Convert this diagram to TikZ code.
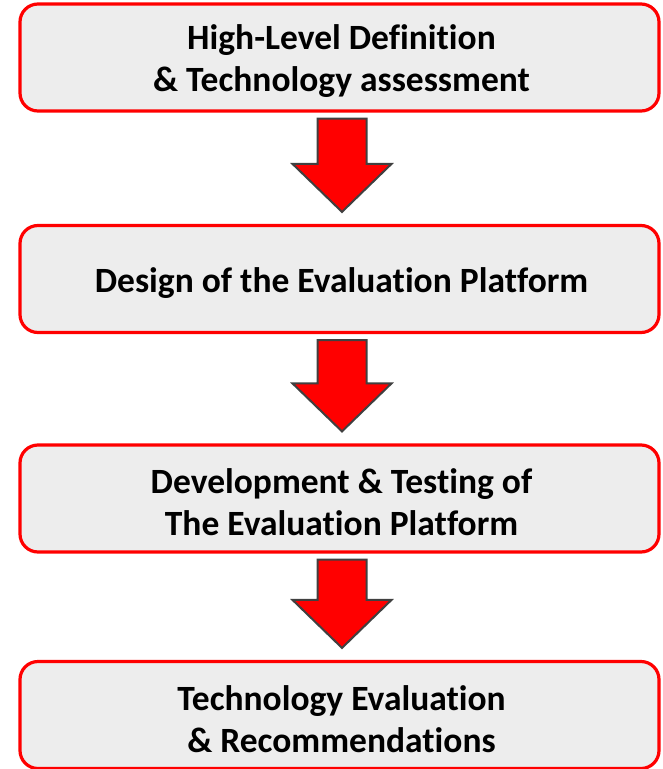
\documentclass[tikz,border=0pt]{standalone}
\usepackage{fontspec}
\setmainfont{Carlito}[Ligatures={NoCommon}]
\usetikzlibrary{calc}
\definecolor{boxfill}{HTML}{EDEDED}
\definecolor{boxline}{HTML}{FF0000}
\definecolor{arrowline}{HTML}{404040}
\tikzset{
  stagebox/.style={draw=boxline, line width=3.2pt, fill=boxfill, rounded corners=18pt,
    minimum width=639pt, minimum height=107pt, inner sep=0pt},
  stagetext/.style={align=center, inner sep=0pt,
    font=\fontsize{35.5}{42}\selectfont\bfseries, text=black},
  arrowshape/.style={draw=arrowline, line width=2pt, fill=red, line join=miter},
}
% downward block arrow from the bottom of #1 to the top of #2
\newcommand\stagearrow[2]{%
  \coordinate (s) at ($(#1.south)+(2.5,6)$);
  \coordinate (e) at ($(#2.north)+(2.5,-12)$);
  \draw[arrowshape] let \p1=(s), \p2=(e) in
    (\x1-24.5pt,\y1) -- (\x1+24.5pt,\y1) -- (\x1+24.5pt,\y2+48pt) --
    (\x1+49.5pt,\y2+48pt) -- (\x1,\y2) -- (\x1-49.5pt,\y2+48pt) --
    (\x1-24.5pt,\y2+48pt) -- cycle;
}
\begin{document}
\begin{tikzpicture}[x=1pt, y=-1pt]
  \useasboundingbox (0,0) rectangle (662,769);
  % stage boxes
  \node[stagebox] (b1) at (339.5,57.5) {};
  \node[stagebox] (b2) at (339.5,279) {};
  \node[stagebox] (b3) at (339.5,498.5) {};
  \node[stagebox] (b4) at (339.5,715) {};
  % stage titles
  \node[stagetext] (t1) at ($(b1.center)+(2,4)$) {High-Level Definition\\\& Technology assessment};
  \node[stagetext] (t2) at ($(b2.center)+(2,4)$) {Design of the Evaluation Platform};
  \node[stagetext] (t3) at ($(b3.center)+(2,4)$) {Development \& Testing of\\The Evaluation Platform};
  \node[stagetext] (t4) at ($(b4.center)+(2,4)$) {Technology Evaluation\\\& Recommendations};
  % flow arrows
  \stagearrow{b1}{b2}
  \stagearrow{b2}{b3}
  \stagearrow{b3}{b4}
\end{tikzpicture}
\end{document}
